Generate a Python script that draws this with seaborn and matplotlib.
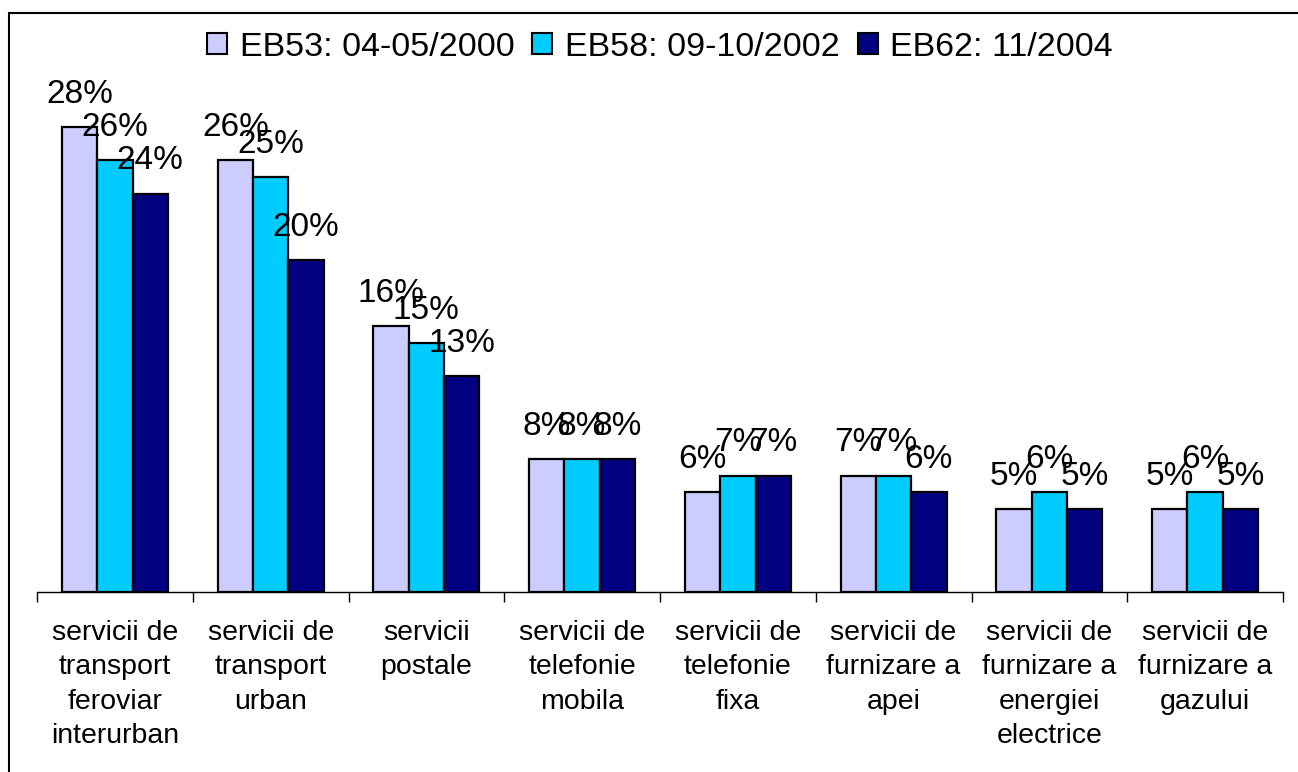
import matplotlib
matplotlib.use("Agg")
import matplotlib.pyplot as plt
from matplotlib.patches import Patch
from matplotlib.lines import Line2D
import seaborn as sns
import pandas as pd

categories = [
    "servicii de\ntransport\nferoviar\ninterurban",
    "servicii de\ntransport\nurban",
    "servicii\npostale",
    "servicii de\ntelefonie\nmobila",
    "servicii de\ntelefonie\nfixa",
    "servicii de\nfurnizare a\napei",
    "servicii de\nfurnizare a\nenergiei\nelectrice",
    "servicii de\nfurnizare a\ngazului",
]
series = ["EB53: 04-05/2000", "EB58: 09-10/2002", "EB62: 11/2004"]
eb53 = [28, 26, 16, 8, 6, 7, 5, 5]
eb58 = [26, 25, 15, 8, 7, 7, 6, 6]
eb62 = [24, 20, 13, 8, 7, 6, 5, 5]
colors = ["#CCCCFF", "#00CCFF", "#000080"]

rows = []
for s, vals in zip(series, [eb53, eb58, eb62]):
    for c, v in zip(categories, vals):
        rows.append({"cat": c, "series": s, "value": v})
df = pd.DataFrame(rows)

sns.set_theme(style="white")
plt.rcParams["font.family"] = ["Liberation Sans", "DejaVu Sans"]
plt.rcParams["text.color"] = "black"

fig = plt.figure(figsize=(12.98, 7.72), dpi=100)
ax = fig.add_axes([37 / 1298, 180 / 772, (1283 - 37) / 1298, 498 / 772])

sns.barplot(data=df, x="cat", y="value", hue="series", palette=colors,
            order=categories, hue_order=series, width=0.68, saturation=1,
            edgecolor="black", linewidth=1.6, ax=ax, legend=False)

for cont, vals in zip(ax.containers, [eb53, eb58, eb62]):
    for bar, v in zip(cont, vals):
        ax.annotate(f"{v}%", (bar.get_x() + bar.get_width() / 2, bar.get_height()),
                    xytext=(0, 17.5), textcoords="offset points",
                    ha="center", va="baseline", fontsize=24, color="black")

ax.set_ylim(0, 30)
ax.set_xlim(-0.5, len(categories) - 0.5)
ax.set_yticks([])
ax.set_xlabel("")
ax.set_ylabel("")
for sp in ["left", "right", "top"]:
    ax.spines[sp].set_visible(False)
ax.spines["bottom"].set_color("black")
ax.spines["bottom"].set_linewidth(1.0)

ax.set_xticks(range(len(categories)))
ax.set_xticklabels(categories, fontsize=20.5, color="black", linespacing=1.42)
ax.tick_params(axis="x", which="major", length=0, pad=20)
ax.set_xticks([i - 0.5 for i in range(len(categories) + 1)], minor=True)
ax.tick_params(axis="x", which="minor", length=7, width=1.0, color="black",
               direction="out", bottom=True)

handles = [Patch(facecolor=c, edgecolor="black", linewidth=1.5) for c in colors]
leg = fig.legend(handles, series, loc="center", bbox_to_anchor=(660 / 1298, 1 - 47 / 772),
                 ncol=3, frameon=False, fontsize=24.5, handlelength=0.58, handleheight=0.58,
                 handletextpad=0.38, columnspacing=0.53, borderpad=0)
for t in leg.get_texts():
    t.set_color("black")

fig.add_artist(Line2D([9 / 1298, 9 / 1298], [0, 1 - 13 / 772], color="black",
                      linewidth=1.5, transform=fig.transFigure))
fig.add_artist(Line2D([9 / 1298, 1], [1 - 13 / 772, 1 - 13 / 772], color="black",
                      linewidth=1.5, transform=fig.transFigure))

fig.savefig("out.png", dpi=100)
